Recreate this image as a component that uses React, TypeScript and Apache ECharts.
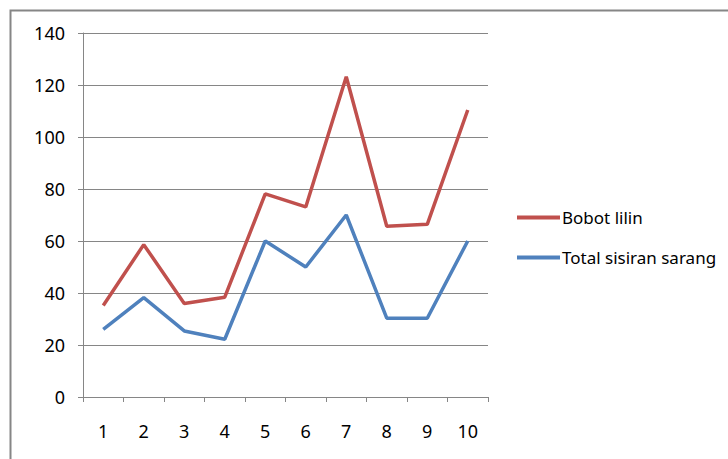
import React, { useEffect, useRef } from "react";
import * as echarts from "echarts";

const categories = ["1", "2", "3", "4", "5", "6", "7", "8", "9", "10"];
const bobotLilin = [35.2, 58.6, 36, 38.4, 78.1, 73.1, 123.2, 65.7, 66.4, 110.4];
const totalSisiran = [26, 38.2, 25.4, 22.2, 60, 50, 70, 30.3, 30.3, 60];
const seriesNames = ["Bobot lilin", "Total sisiran sarang"];
const colors = ["#C0504D", "#4F81BD"];

const FONT = "'Noto Sans', 'Liberation Sans', sans-serif";

export default function App() {
  const ref = useRef<HTMLDivElement>(null);
  useEffect(() => {
    if (!ref.current) return;
    const chart = echarts.init(ref.current, undefined, { renderer: "svg" });
    chart.setOption({
      animation: false,
      backgroundColor: "#ffffff",
      textStyle: { fontFamily: FONT },
      graphic: [
        {
          type: "rect",
          shape: { x: 10.5, y: 10.5, width: 900, height: 600 },
          style: { fill: "none", stroke: "#868686", lineWidth: 2 },
          silent: true,
        },
      ],
      grid: { left: 83, top: 33, right: 240, bottom: 62, containLabel: false },
      legend: {
        orient: "vertical",
        left: 517,
        top: 209,
        padding: 0,
        itemWidth: 43,
        itemHeight: 4,
        itemGap: 23,
        icon: "rect",
        data: seriesNames,
        textStyle: { fontFamily: FONT, fontSize: 17, color: "#000", padding: [0, 0, 0, -3] },
      },
      xAxis: {
        type: "category",
        data: categories,
        boundaryGap: true,
        axisLine: { lineStyle: { color: "#868686", width: 1 } },
        axisTick: { show: true, length: 5, interval: 0, lineStyle: { color: "#868686" } },
        axisLabel: { margin: 25, fontSize: 18, color: "#000", fontFamily: FONT },
        splitLine: { show: false },
      },
      yAxis: {
        type: "value",
        min: 0,
        max: 140,
        interval: 20,
        axisLine: { show: true, lineStyle: { color: "#868686", width: 1 } },
        axisTick: { show: true, length: 5, lineStyle: { color: "#868686" } },
        axisLabel: { margin: 18, fontSize: 18, color: "#000", fontFamily: FONT },
        splitLine: { show: true, lineStyle: { color: "#868686", width: 1 } },
      },
      series: [
        {
          name: seriesNames[0],
          type: "line",
          data: bobotLilin,
          color: colors[0],
          symbol: "none",
          lineStyle: { width: 3.5, color: colors[0] },
        },
        {
          name: seriesNames[1],
          type: "line",
          data: totalSisiran,
          color: colors[1],
          symbol: "none",
          lineStyle: { width: 3.5, color: colors[1] },
        },
      ],
    });
    return () => chart.dispose();
  }, []);
  return (
    <div
      ref={ref}
      style={{ position: "fixed", left: 0, top: 0, width: 728, height: 459 }}
    />
  );
}
